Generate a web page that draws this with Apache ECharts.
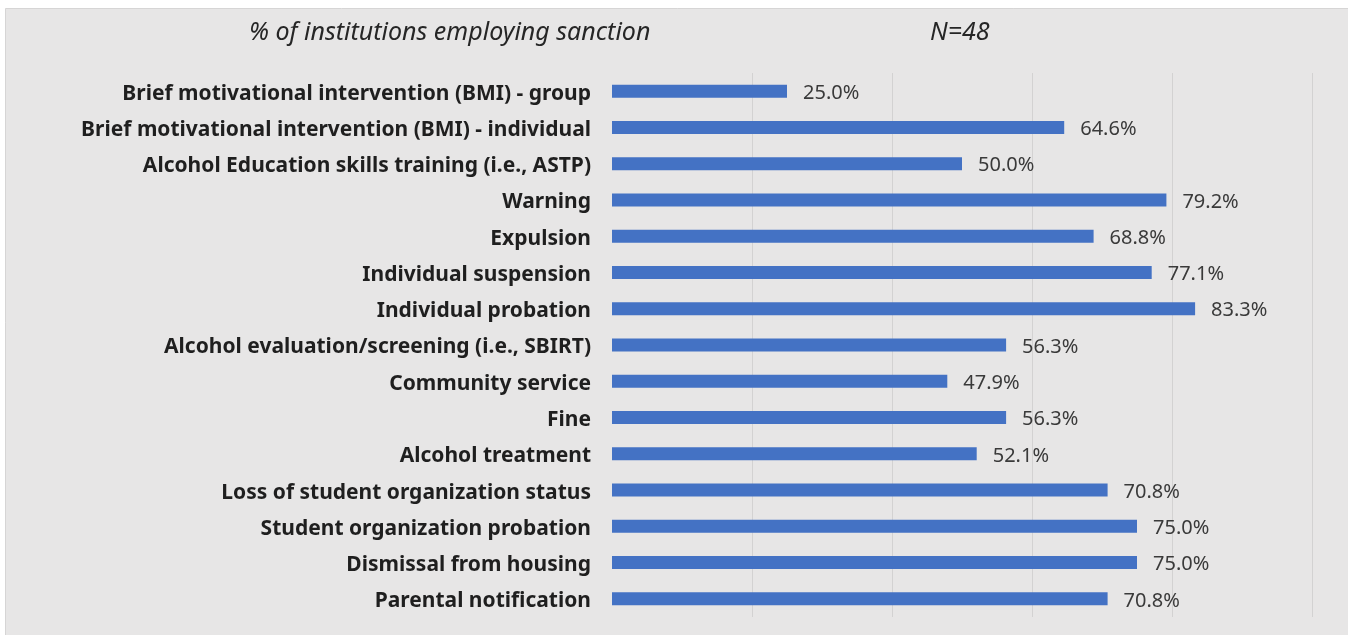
<!DOCTYPE html>
<html>
<head>
<meta charset="utf-8">
<title>Sanctions employed by institutions</title>
<script src="https://cdn.jsdelivr.net/npm/echarts@6/dist/echarts.min.js"></script>
<style>
  html, body { margin: 0; padding: 0; background: #ffffff; }
  #chart { width: 1348px; height: 635px; }
</style>
</head>
<body>
<div id="chart"></div>
<script>
// Sanction types, listed top to bottom
const categories = [
  'Brief motivational intervention (BMI) - group',
  'Brief motivational intervention (BMI) - individual',
  'Alcohol Education skills training (i.e., ASTP)',
  'Warning',
  'Expulsion',
  'Individual suspension',
  'Individual probation',
  'Alcohol evaluation/screening (i.e., SBIRT)',
  'Community service',
  'Fine',
  'Alcohol treatment',
  'Loss of student organization status',
  'Student organization probation',
  'Dismissal from housing',
  'Parental notification'
];

// Share of institutions (%) employing each sanction
const percentages = [25.0, 64.6, 50.0, 79.2, 68.8, 77.1, 83.3, 56.3, 47.9, 56.3, 52.1, 70.8, 75.0, 75.0, 70.8];

const titleText = '% of institutions employing sanction';
const sampleText = 'N=48';

const headingStyle = {
  fontFamily: 'Noto Sans',
  fontStyle: 'italic',
  fontWeight: 'normal',
  fontSize: 25,
  color: '#262626'
};

const chart = echarts.init(document.getElementById('chart'), null, { renderer: 'canvas' });

chart.setOption({
  animation: false,
  backgroundColor: '#ffffff',
  graphic: [{
    type: 'rect',
    z: -10,
    shape: { x: 5.5, y: 8.5, width: 1360, height: 640 },
    style: { fill: '#e7e6e6', stroke: '#d6d5d5', lineWidth: 1 }
  }],
  title: [{
    text: titleText,
    left: 244,
    top: 15,
    textStyle: headingStyle
  }, {
    text: sampleText,
    left: 925,
    top: 15,
    textStyle: headingStyle
  }],
  grid: { left: 612, right: 36, top: 73, bottom: 18, containLabel: false },
  xAxis: {
    type: 'value',
    min: 0,
    max: 100,
    interval: 20,
    axisLine: { show: false },
    axisTick: { show: false },
    axisLabel: { show: false },
    splitLine: { show: true, showMinLine: false, lineStyle: { color: '#d3d2d2', width: 1 } }
  },
  yAxis: {
    type: 'category',
    data: categories,
    inverse: true,
    axisLine: { show: false },
    axisTick: { show: false },
    axisLabel: {
      margin: 21,
      formatter: v => '{c|' + v + '}',
      rich: {
        c: {
          padding: [5, 0, 0, 0],
          fontFamily: 'Noto Sans',
          fontWeight: 'bold',
          fontSize: 21,
          color: '#1f1f1f'
        }
      }
    }
  },
  series: [{
    type: 'bar',
    data: percentages,
    barWidth: 13,
    itemStyle: { color: '#4472c4' },
    label: {
      show: true,
      position: 'right',
      distance: 16,
      offset: [0, 2],
      fontFamily: 'Noto Sans',
      fontSize: 20,
      color: '#3a3a3a',
      formatter: p => p.value.toFixed(1) + '%'
    }
  }]
});
</script>
</body>
</html>
